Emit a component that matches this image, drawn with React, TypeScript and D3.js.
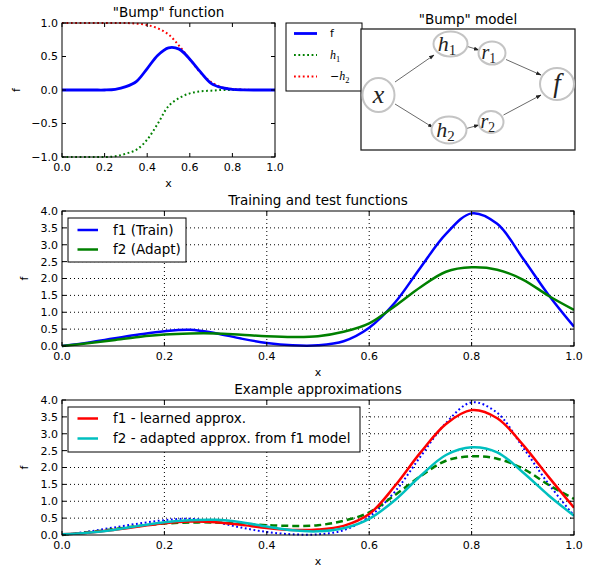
import React from 'react';
import * as d3 from 'd3';

// sample positions along x (shared by every curve)
const xGrid = [0, 0.05, 0.1, 0.15, 0.2, 0.25, 0.3, 0.35, 0.4, 0.45, 0.5, 0.55, 0.6, 0.65, 0.7, 0.75, 0.8, 0.85, 0.9, 0.95, 1.0];

// "Bump" function panel
const bumpF = [0, 0, 0, 0, 0, 0.01, 0.05, 0.13, 0.32, 0.52, 0.63, 0.61, 0.46, 0.27, 0.1, 0.035, 0.01, 0.003, 0, 0, 0];
const bumpH1 = [-1, -1, -1, -1, -1, -0.99, -0.95, -0.89, -0.74, -0.5, -0.24, -0.12, -0.05, -0.02, -0.01, 0, 0, 0, 0, 0, 0];
const bumpNegH2 = [1, 1, 1, 1, 1, 1, 1, 0.99, 0.97, 0.92, 0.83, 0.66, 0.46, 0.26, 0.12, 0.04, 0.015, 0.005, 0, 0, 0];

// training / test functions
const trainF1 = [0, 0.1, 0.22, 0.34, 0.44, 0.48, 0.38, 0.22, 0.09, 0.02, 0.02, 0.14, 0.54, 1.28, 2.32, 3.32, 3.93, 3.62, 2.6, 1.52, 0.57];
const adaptF2 = [0, 0.08, 0.17, 0.27, 0.34, 0.37, 0.37, 0.33, 0.29, 0.27, 0.29, 0.42, 0.67, 1.18, 1.74, 2.2, 2.33, 2.26, 1.97, 1.49, 1.07];

// approximations
const learnedF1 = [0.02, 0.07, 0.15, 0.25, 0.35, 0.4, 0.38, 0.3, 0.21, 0.15, 0.16, 0.27, 0.62, 1.45, 2.44, 3.29, 3.7, 3.46, 2.68, 1.73, 0.81];
const adaptedF2 = [0.02, 0.07, 0.15, 0.27, 0.38, 0.44, 0.45, 0.38, 0.25, 0.14, 0.11, 0.2, 0.48, 1.03, 1.75, 2.37, 2.6, 2.45, 1.86, 1.18, 0.57];

const xTicks = [0, 0.2, 0.4, 0.6, 0.8, 1.0];
const bumpYTicks = [-1, -0.5, 0, 0.5, 1];
const fYTicks = [0, 0.5, 1, 1.5, 2, 2.5, 3, 3.5, 4];

const FONT = '"DejaVu Sans", sans-serif';
const MATH = '"Liberation Serif", "DejaVu Serif", serif';

type Series = { values: number[]; color: string; width: number; dash?: string };
type LegendItem = { label: React.ReactNode; color: string; width: number; dash?: string };

const fmt = d3.format('.1f');

function Panel(props: {
  left: number; top: number; width: number; height: number;
  yDomain: [number, number]; yTicks: number[]; grid: boolean;
  series: Series[]; title: string; ylabelGap: number; clipId: string;
}) {
  const { left, top, width, height, yDomain, yTicks, grid, series, title, ylabelGap, clipId } = props;
  const x = d3.scaleLinear().domain([0, 1]).range([left, left + width]);
  const y = d3.scaleLinear().domain(yDomain).range([top + height, top]);
  const line = d3.line<number>()
    .x((_, i) => x(xGrid[i]))
    .y(d => y(d))
    .curve(d3.curveCatmullRom.alpha(0.5));
  const bottom = top + height;
  const right = left + width;
  const tl = 4;

  return (
    <g>
      <defs>
        <clipPath id={clipId}>
          <rect x={left} y={top - 2} width={width} height={height + 4} />
        </clipPath>
      </defs>
      {grid && xTicks.slice(1, -1).map(t => (
        <line key={'gx' + t} x1={x(t)} x2={x(t)} y1={top} y2={bottom}
          stroke="#000" strokeWidth={1} strokeDasharray="1,3" />
      ))}
      {grid && yTicks.slice(1, -1).map(t => (
        <line key={'gy' + t} x1={left} x2={right} y1={y(t)} y2={y(t)}
          stroke="#000" strokeWidth={1} strokeDasharray="1,3" />
      ))}
      <g clipPath={`url(#${clipId})`}>
        {series.map((s, i) => (
          <path key={i} d={line(s.values) ?? ''} fill="none" stroke={s.color}
            strokeWidth={s.width} strokeDasharray={s.dash} />
        ))}
      </g>
      <rect x={left} y={top} width={width} height={height} fill="none" stroke="#000" strokeWidth={1} />
      {xTicks.map(t => (
        <g key={'xt' + t}>
          <line x1={x(t)} x2={x(t)} y1={bottom} y2={bottom - tl} stroke="#000" />
          <line x1={x(t)} x2={x(t)} y1={top} y2={top + tl} stroke="#000" />
          <text x={x(t)} y={bottom + 14} textAnchor="middle" fontSize={11} fontFamily={FONT}>{fmt(t)}</text>
        </g>
      ))}
      {yTicks.map(t => (
        <g key={'yt' + t}>
          <line x1={left} x2={left + tl} y1={y(t)} y2={y(t)} stroke="#000" />
          <line x1={right} x2={right - tl} y1={y(t)} y2={y(t)} stroke="#000" />
          <text x={left - 4} y={y(t)} dy="0.36em" textAnchor="end" fontSize={11} fontFamily={FONT}>{fmt(t)}</text>
        </g>
      ))}
      <text x={(left + right) / 2} y={top - 6} textAnchor="middle" fontSize={13.5} fontFamily={FONT}>{title}</text>
      <text x={(left + right) / 2} y={bottom + 30} textAnchor="middle" fontSize={11} fontFamily={FONT}>x</text>
      <text transform={`translate(${left - ylabelGap},${(top + bottom) / 2}) rotate(-90)`}
        textAnchor="middle" fontSize={11} fontFamily={FONT}>f</text>
    </g>
  );
}

function Legend(props: {
  x: number; y: number; w: number; h: number; items: LegendItem[];
  rowStart: number; rowStep: number; fontSize: number; lineX: [number, number]; textX: number;
}) {
  const { x, y, w, h, items, rowStart, rowStep, fontSize, lineX, textX } = props;
  return (
    <g>
      <rect x={x} y={y} width={w} height={h} fill="#fff" stroke="#000" strokeWidth={1} />
      {items.map((it, i) => {
        const cy = y + rowStart + i * rowStep;
        return (
          <g key={i}>
            <line x1={x + lineX[0]} x2={x + lineX[1]} y1={cy} y2={cy} stroke={it.color}
              strokeWidth={it.width} strokeDasharray={it.dash} />
            <text x={x + textX} y={cy} dy="0.36em" fontSize={fontSize} fontFamily={FONT}>{it.label}</text>
          </g>
        );
      })}
    </g>
  );
}

function sub(base: string, s: string, size: number) {
  return (
    <tspan fontFamily={MATH} fontStyle="italic" fontSize={size}>
      {base}<tspan fontStyle="normal" fontSize={size * 0.7} dy={size * 0.22}>{s}</tspan>
    </tspan>
  );
}

function ModelDiagram() {
  // layout of the embedded network picture
  const box = { x: 361, y: 29, w: 214, h: 121 };
  const nodes = [
    { id: 'x', cx: 378.5, cy: 95, rx: 16, ry: 17, base: 'x', s: '', size: 26 },
    { id: 'h1', cx: 450.5, cy: 44, rx: 17, ry: 12.5, base: 'h', s: '1', size: 22 },
    { id: 'r1', cx: 492, cy: 53, rx: 13.5, ry: 11.5, base: 'r', s: '1', size: 20 },
    { id: 'f', cx: 557, cy: 84, rx: 17, ry: 16, base: 'f', s: '', size: 27 },
    { id: 'h2', cx: 449, cy: 130, rx: 17.5, ry: 13.5, base: 'h', s: '2', size: 22 },
    { id: 'r2', cx: 491, cy: 122, rx: 12.5, ry: 11, base: 'r', s: '2', size: 20 },
  ];
  const edges = [
    [395, 82, 434, 55], [395, 104, 433, 127.5], [467.5, 46.5, 479, 50],
    [506, 59.5, 541, 75], [466.5, 128.5, 479, 125], [503.5, 115, 541, 95],
  ];
  return (
    <g>
      <defs>
        <marker id="ah" viewBox="0 0 10 10" refX="9" refY="5" markerWidth="7" markerHeight="7" orient="auto">
          <path d="M0,1.5 L10,5 L0,8.5 Z" fill="#222" />
        </marker>
      </defs>
      <text x={468} y={24} textAnchor="middle" fontSize={13.5} fontFamily={FONT}>"Bump" model</text>
      <rect x={box.x} y={box.y} width={box.w} height={box.h} fill="#fff" stroke="#222" strokeWidth={1.3} />
      {edges.map((e, i) => (
        <line key={i} x1={e[0]} y1={e[1]} x2={e[2]} y2={e[3]} stroke="#444" strokeWidth={0.8} markerEnd="url(#ah)" />
      ))}
      {nodes.map(n => (
        <g key={n.id}>
          <ellipse cx={n.cx} cy={n.cy} rx={n.rx} ry={n.ry} fill="#fff" stroke="#c4c4c4" strokeWidth={2} />
          <text x={n.cx - (n.s ? n.size * 0.16 : 0)} y={n.cy} dy="0.3em" textAnchor="middle"
            fontFamily={MATH} fontStyle="italic" fontSize={n.size} fill="#222">
            {n.base}
            {n.s && <tspan fontStyle="normal" fontSize={n.size * 0.68} dy={n.size * 0.18}>{n.s}</tspan>}
          </text>
        </g>
      ))}
    </g>
  );
}

export default function App() {
  const blue = '#0000ff';
  const green = '#008000';
  const red = '#ff0000';
  const cyan = '#00bfbf';
  return (
    <svg width={592} height={567} style={{ position: 'absolute', left: 0, top: 0, background: '#fff' }}>
      <rect width={592} height={567} fill="#fff" />
      <Panel left={62} top={23} width={213} height={134} yDomain={[-1, 1]} yTicks={bumpYTicks}
        grid={false} title={'"Bump" function'} ylabelGap={42} clipId="clip-bump"
        series={[
          { values: bumpNegH2, color: red, width: 2, dash: '1.8,2.6' },
          { values: bumpH1, color: green, width: 2, dash: '1.8,2.6' },
          { values: bumpF, color: blue, width: 2.8 },
        ]} />
      <Legend x={286} y={23} w={76} h={68} rowStart={10.5} rowStep={21.5} fontSize={11}
        lineX={[8, 31]} textX={44}
        items={[
          { label: 'f', color: blue, width: 2.8 },
          { label: sub('h', '1', 12), color: green, width: 2, dash: '1.8,2.6' },
          { label: <tspan>{'\u2212'}{sub('h', '2', 12)}</tspan>, color: red, width: 2, dash: '1.8,2.6' },
        ]} />
      <ModelDiagram />
      <Panel left={62} top={211} width={512} height={135} yDomain={[0, 4]} yTicks={fYTicks}
        grid={true} title="Training and test functions" ylabelGap={34} clipId="clip-train"
        series={[
          { values: trainF1, color: blue, width: 2.5 },
          { values: adaptF2, color: green, width: 2.5 },
        ]} />
      <Legend x={68} y={218} w={118} h={44} rowStart={12} rowStep={19.5} fontSize={13.5}
        lineX={[9.5, 30]} textX={45}
        items={[
          { label: 'f1 (Train)', color: blue, width: 2.5 },
          { label: 'f2 (Adapt)', color: green, width: 2.5 },
        ]} />
      <Panel left={62} top={400} width={512} height={135} yDomain={[0, 4]} yTicks={fYTicks}
        grid={true} title="Example approximations" ylabelGap={34} clipId="clip-approx"
        series={[
          { values: trainF1, color: blue, width: 2, dash: '1.8,2.6' },
          { values: adaptF2, color: green, width: 2.5, dash: '7,4' },
          { values: learnedF1, color: red, width: 2.5 },
          { values: adaptedF2, color: cyan, width: 2.5 },
        ]} />
      <Legend x={68} y={407} w={292} h={45} rowStart={11.5} rowStep={20} fontSize={13.5}
        lineX={[9.5, 30]} textX={45}
        items={[
          { label: 'f1 - learned approx.', color: red, width: 2.5 },
          { label: 'f2 - adapted approx. from f1 model', color: cyan, width: 2.5 },
        ]} />
    </svg>
  );
}
